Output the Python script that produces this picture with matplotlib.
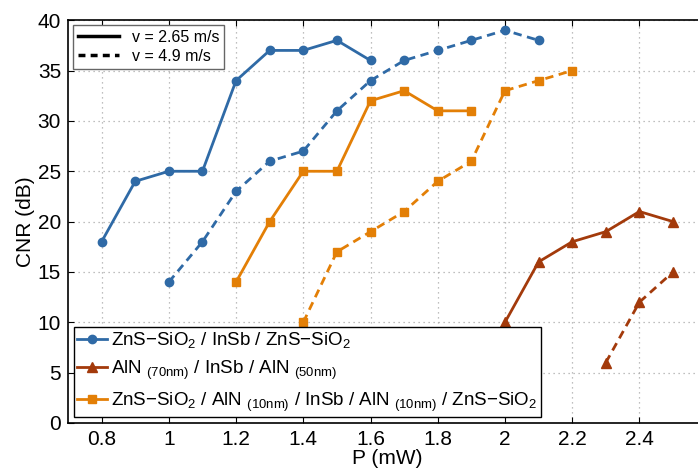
import numpy as np
import matplotlib
matplotlib.use('Agg')
import matplotlib.pyplot as plt
from matplotlib.lines import Line2D

plt.rcParams['font.family'] = ['Liberation Sans', 'DejaVu Sans']
plt.rcParams['mathtext.fontset'] = 'custom'
plt.rcParams['mathtext.rm'] = 'Liberation Sans'
plt.rcParams['mathtext.it'] = 'Liberation Sans:italic'

# --- Data ---
# ZnS-SiO2 / InSb / ZnS-SiO2
p_zns_slow = [0.8, 0.9, 1.0, 1.1, 1.2, 1.3, 1.4, 1.5, 1.6]
cnr_zns_slow = [18, 24, 25, 25, 34, 37, 37, 38, 36]
p_zns_fast = [1.0, 1.1, 1.2, 1.3, 1.4, 1.5, 1.6, 1.7, 1.8, 1.9, 2.0, 2.1]
cnr_zns_fast = [14, 18, 23, 26, 27, 31, 34, 36, 37, 38, 39, 38]

# AlN / InSb / AlN
p_aln_slow = [2.0, 2.1, 2.2, 2.3, 2.4, 2.5]
cnr_aln_slow = [10, 16, 18, 19, 21, 20]
p_aln_fast = [2.3, 2.4, 2.5]
cnr_aln_fast = [6, 12, 15]

# ZnS-SiO2 / AlN / InSb / AlN / ZnS-SiO2
p_mix_slow = [1.2, 1.3, 1.4, 1.5, 1.6, 1.7, 1.8, 1.9]
cnr_mix_slow = [14, 20, 25, 25, 32, 33, 31, 31]
p_mix_fast = [1.4, 1.5, 1.6, 1.7, 1.8, 1.9, 2.0, 2.1, 2.2]
cnr_mix_fast = [10, 17, 19, 21, 24, 26, 33, 34, 35]

labels = [
    r'ZnS$-$SiO$_2$ / InSb / ZnS$-$SiO$_2$',
    r'AlN $_{\mathrm{(70nm)}}$ / InSb / AlN $_{\mathrm{(50nm)}}$',
    r'ZnS$-$SiO$_2$ / AlN $_{\mathrm{(10nm)}}$ / InSb / AlN $_{\mathrm{(10nm)}}$ / ZnS$-$SiO$_2$',
]

c_blue = '#2f6aa6'
c_red = '#a33a0b'
c_orange = '#e37f06'

fig = plt.figure(figsize=(6.98, 4.70), dpi=100)
ax = fig.add_axes([0.0974, 0.1, 0.915, 0.857])

lw = 2.0
dash = (0, (3, 2))
ax.plot(p_zns_slow, cnr_zns_slow, '-', color=c_blue, lw=lw, marker='o', ms=6)
ax.plot(p_zns_fast, cnr_zns_fast, color=c_blue, lw=lw, ls=dash, marker='o', ms=6)
ax.plot(p_mix_slow, cnr_mix_slow, '-', color=c_orange, lw=lw, marker='s', ms=6)
ax.plot(p_mix_fast, cnr_mix_fast, color=c_orange, lw=lw, ls=dash, marker='s', ms=6)
ax.plot(p_aln_slow, cnr_aln_slow, '-', color=c_red, lw=lw, marker='^', ms=7)
ax.plot(p_aln_fast, cnr_aln_fast, color=c_red, lw=lw, ls=dash, marker='^', ms=7)

ax.set_xlim(0.7, 2.6)
ax.set_ylim(0, 40)
ax.set_xticks([0.8, 1.0, 1.2, 1.4, 1.6, 1.8, 2.0, 2.2, 2.4])
ax.set_xticklabels(['0.8', '1', '1.2', '1.4', '1.6', '1.8', '2', '2.2', '2.4'])
ax.set_yticks(np.arange(0, 41, 5))
ax.tick_params(direction='in', top=True, right=True, labelsize=15, length=4, pad=5)
ax.grid(True, color='#aaaaaa', linestyle=(0, (1, 3)), linewidth=0.9)
for s in ax.spines.values():
    s.set_linewidth(1.2)
ax.set_xlabel('P (mW)', fontsize=15, labelpad=0)
ax.set_ylabel('CNR (dB)', fontsize=15, labelpad=2)

speed_handles = [Line2D([], [], color='black', lw=2.5, ls='-'),
                 Line2D([], [], color='black', lw=2.5, ls=(0, (2, 1.5)))]
leg1 = ax.legend(speed_handles, ['v = 2.65 m/s', 'v = 4.9 m/s'], loc='upper left',
                 fontsize=11.5, fancybox=False, edgecolor='#666666', framealpha=1,
                 handlelength=2.6, borderaxespad=0.3, borderpad=0.3, labelspacing=0.25)
leg1.get_frame().set_linewidth(1.0)
ax.add_artist(leg1)

mat_handles = [Line2D([], [], color=c_blue, lw=lw, marker='o', ms=6),
               Line2D([], [], color=c_red, lw=lw, marker='^', ms=7),
               Line2D([], [], color=c_orange, lw=lw, marker='s', ms=6)]
leg2 = ax.legend(mat_handles, labels, loc='lower left', fontsize=13.5, fancybox=False,
                 edgecolor='black', framealpha=1, handlelength=1.6, handletextpad=0.2,
                 borderaxespad=0.3, borderpad=0.2, labelspacing=0.45)
leg2.get_frame().set_linewidth(1.0)

fig.savefig('out.png', dpi=100)
